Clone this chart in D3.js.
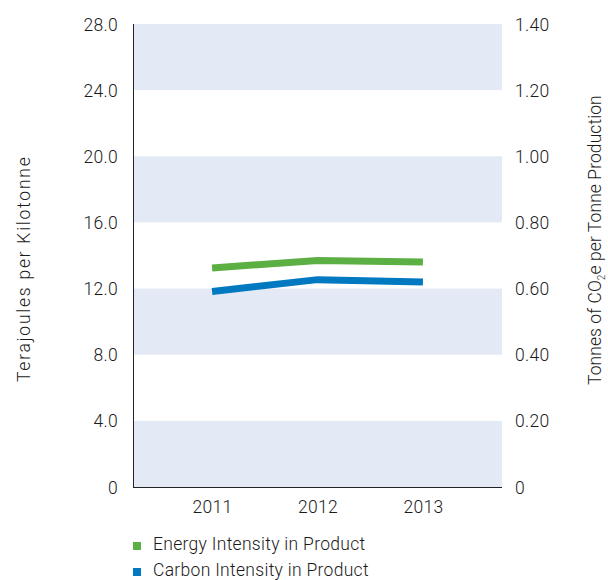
<!DOCTYPE html>
<html>
<head>
<meta charset="utf-8">
<script src="https://cdn.jsdelivr.net/npm/d3@7"></script>
<style>
  html, body { margin: 0; padding: 0; background: #fff; }
  svg text { font-family: Roboto, "Liberation Sans", Arial, sans-serif; font-weight: 300; fill: #1a1a1a; letter-spacing: 0.3px; }
</style>
</head>
<body>
<svg id="chart" width="608" height="580"></svg>
<script>
const years = ["2011", "2012", "2013"];
const energyIntensity = [13.25, 13.7, 13.6];      // Terajoules per Kilotonne (left axis)
const carbonIntensity = [0.591, 0.627, 0.620];    // Tonnes CO2e per tonne (right axis)
const leftTicks = [0, 4, 8, 12, 16, 20, 24, 28];
const rightTicks = [0, 0.2, 0.4, 0.6, 0.8, 1.0, 1.2, 1.4];
const seriesNames = ["Energy Intensity in Product", "Carbon Intensity in Product"];
const colors = ["#5cb043", "#0079c1"];
const FS = "17.5px";

const svg = d3.select("#chart");
const m = { left: 133, right: 502, top: 24, bottom: 487 };

const x = d3.scalePoint().domain(years).range([m.left, m.right]).padding(0.75);
const yL = d3.scaleLinear().domain([0, 28]).range([m.bottom, m.top]);
const yR = d3.scaleLinear().domain([0, 1.4]).range([m.bottom, m.top]);

// bands
const bands = [[0, 4], [8, 12], [16, 20], [24, 28]];
svg.append("g").selectAll("rect").data(bands).join("rect")
  .attr("x", m.left).attr("width", m.right - m.left)
  .attr("y", d => yL(d[1])).attr("height", d => yL(d[0]) - yL(d[1]))
  .attr("fill", "#e3eaf5");

// left axis
const gL = svg.append("g").attr("transform", `translate(${m.left},0)`)
  .call(d3.axisLeft(yL).tickValues(leftTicks).tickSize(0).tickPadding(15)
    .tickFormat(d => d === 0 ? "0" : d3.format(".1f")(d)));
gL.select(".domain").attr("stroke", "#222").attr("d", `M0.5,${m.top}V${m.bottom}`);
gL.selectAll("text").style("font-size", FS).attr("dy", "0.35em");

// right axis
const gR = svg.append("g").attr("transform", `translate(${m.right},0)`)
  .call(d3.axisRight(yR).tickValues(rightTicks).tickSize(0).tickPadding(13)
    .tickFormat(d => d === 0 ? "0" : d3.format(".2f")(d)));
gR.select(".domain").remove();
gR.selectAll("text").style("font-size", FS).attr("dy", "0.35em");

// bottom axis
const gB = svg.append("g").attr("transform", `translate(0,${m.bottom})`)
  .call(d3.axisBottom(x).tickSize(0).tickPadding(14));
gB.select(".domain").attr("stroke", "#222").attr("d", `M${m.left},0.5H${m.right}`);
gB.selectAll("text").style("font-size", FS);

// lines
const lineL = d3.line().x((d, i) => x(years[i])).y(d => yL(d));
const lineR = d3.line().x((d, i) => x(years[i])).y(d => yR(d));
svg.append("path").datum(energyIntensity).attr("d", lineL)
  .attr("fill", "none").attr("stroke", colors[0]).attr("stroke-width", 7);
svg.append("path").datum(carbonIntensity).attr("d", lineR)
  .attr("fill", "none").attr("stroke", colors[1]).attr("stroke-width", 7);

// axis titles
svg.append("text").attr("transform", "translate(30,382) rotate(-90)")
  .style("font-size", FS).attr("textLength", 225).attr("lengthAdjust", "spacing")
  .text("Terajoules per Kilotonne");
const rt = svg.append("text").attr("transform", "translate(601,385) rotate(-90)")
  .style("font-size", FS).attr("textLength", 290).attr("lengthAdjust", "spacing");
rt.append("tspan").text("Tonnes of CO");
rt.append("tspan").attr("dy", 4).style("font-size", "10px").text("2");
rt.append("tspan").attr("dy", -4).text("e per Tonne Production");

// legend
const lg = svg.append("g").selectAll("g").data(seriesNames).join("g")
  .attr("transform", (d, i) => `translate(133,${542 + i * 26})`);
lg.append("rect").attr("width", 8).attr("height", 8).attr("fill", (d, i) => colors[i]);
lg.append("text").attr("x", 20).attr("y", 8).style("font-size", FS).text(d => d);
</script>
</body>
</html>
